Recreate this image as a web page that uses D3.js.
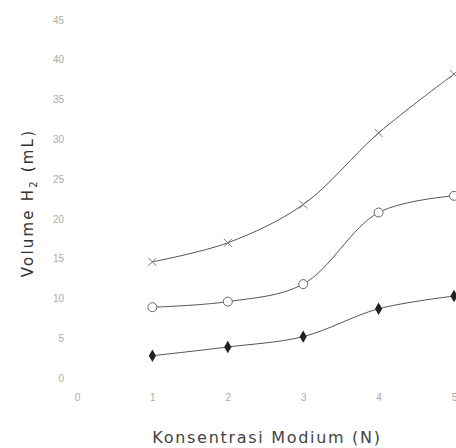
<!DOCTYPE html>
<html>
<head>
<meta charset="utf-8">
<script src="https://cdn.jsdelivr.net/npm/d3@7"></script>
<style>
  html, body { margin: 0; padding: 0; background: #fff; }
  svg { display: block; }
</style>
</head>
<body>
<svg id="chart" width="456" height="448"></svg>
<script>
// Concentration of medium (N) on the x axis
const konsentrasi = [1, 2, 3, 4, 5];
const xTicks = [0, 1, 2, 3, 4, 5];
const yTicks = [0, 5, 10, 15, 20, 25, 30, 35, 40, 45];

// Volume of H2 produced (mL) for each series
const seriesCross = [14.6, 17.0, 21.8, 30.8, 38.2];
const seriesCircle = [8.9, 9.6, 11.8, 20.8, 22.9];
const seriesDiamond = [2.8, 3.9, 5.2, 8.7, 10.3];

const svg = d3.select("#chart");

const x = d3.scaleLinear().domain([0, 5]).range([77, 454]);
const y = d3.scaleLinear().domain([0, 45]).range([378, 20]);

// Axes: labels only, no domain or tick lines
const xAxis = svg.append("g")
  .attr("transform", "translate(0,391)")
  .call(d3.axisBottom(x).tickValues(xTicks).tickSize(0).tickFormat(d3.format("d")));
const yAxis = svg.append("g")
  .attr("transform", "translate(67,0)")
  .call(d3.axisLeft(y).tickValues(yTicks).tickSize(0).tickFormat(d3.format("d")));
[xAxis, yAxis].forEach(g => {
  g.select(".domain").remove();
  g.selectAll("text")
    .attr("fill", "#ababab")
    .style("font-family", "Liberation Sans, Arial, sans-serif")
    .style("font-size", "10px");
});

const line = d3.line()
  .x((d, i) => x(konsentrasi[i]))
  .y(d => y(d))
  .curve(d3.curveCatmullRom.alpha(0.5));

const allSeries = [
  { values: seriesCross, marker: "cross" },
  { values: seriesCircle, marker: "circle" },
  { values: seriesDiamond, marker: "diamond" }
];

allSeries.forEach(s => {
  svg.append("path")
    .datum(s.values)
    .attr("fill", "none")
    .attr("stroke", "#555")
    .attr("stroke-width", 1)
    .attr("d", line);

  const pts = svg.append("g").selectAll("g")
    .data(s.values)
    .join("g")
    .attr("transform", (d, i) => `translate(${x(konsentrasi[i])},${y(d)})`);

  if (s.marker === "cross") {
    pts.append("path")
      .attr("d", "M-4,-4L4,4M-4,4L4,-4")
      .attr("stroke", "#777")
      .attr("stroke-width", 1)
      .attr("fill", "none");
  } else if (s.marker === "circle") {
    pts.append("circle")
      .attr("r", 4.5)
      .attr("fill", "#fff")
      .attr("stroke", "#666")
      .attr("stroke-width", 1);
  } else {
    pts.append("path")
      .attr("d", d3.symbol().type(d3.symbolDiamond).size(45))
      .attr("fill", "#222");
  }
});

// Axis titles
svg.append("text")
  .attr("x", 267)
  .attr("y", 443)
  .attr("text-anchor", "middle")
  .attr("fill", "#444")
  .style("font-family", "DejaVu Sans, sans-serif")
  .style("font-size", "16px")
  .style("letter-spacing", "1.7px")
  .text("Konsentrasi Modium (N)");

const yTitle = svg.append("text")
  .attr("transform", "translate(33,203) rotate(-90)")
  .attr("text-anchor", "middle")
  .attr("fill", "#333")
  .style("font-family", "DejaVu Sans, sans-serif")
  .style("font-size", "15px")
  .style("letter-spacing", "2.2px");
yTitle.append("tspan").text("Volume H");
yTitle.append("tspan").attr("dy", 4).style("font-size", "10px").text("2");
yTitle.append("tspan").attr("dy", -4).text(" (mL)");
</script>
</body>
</html>
